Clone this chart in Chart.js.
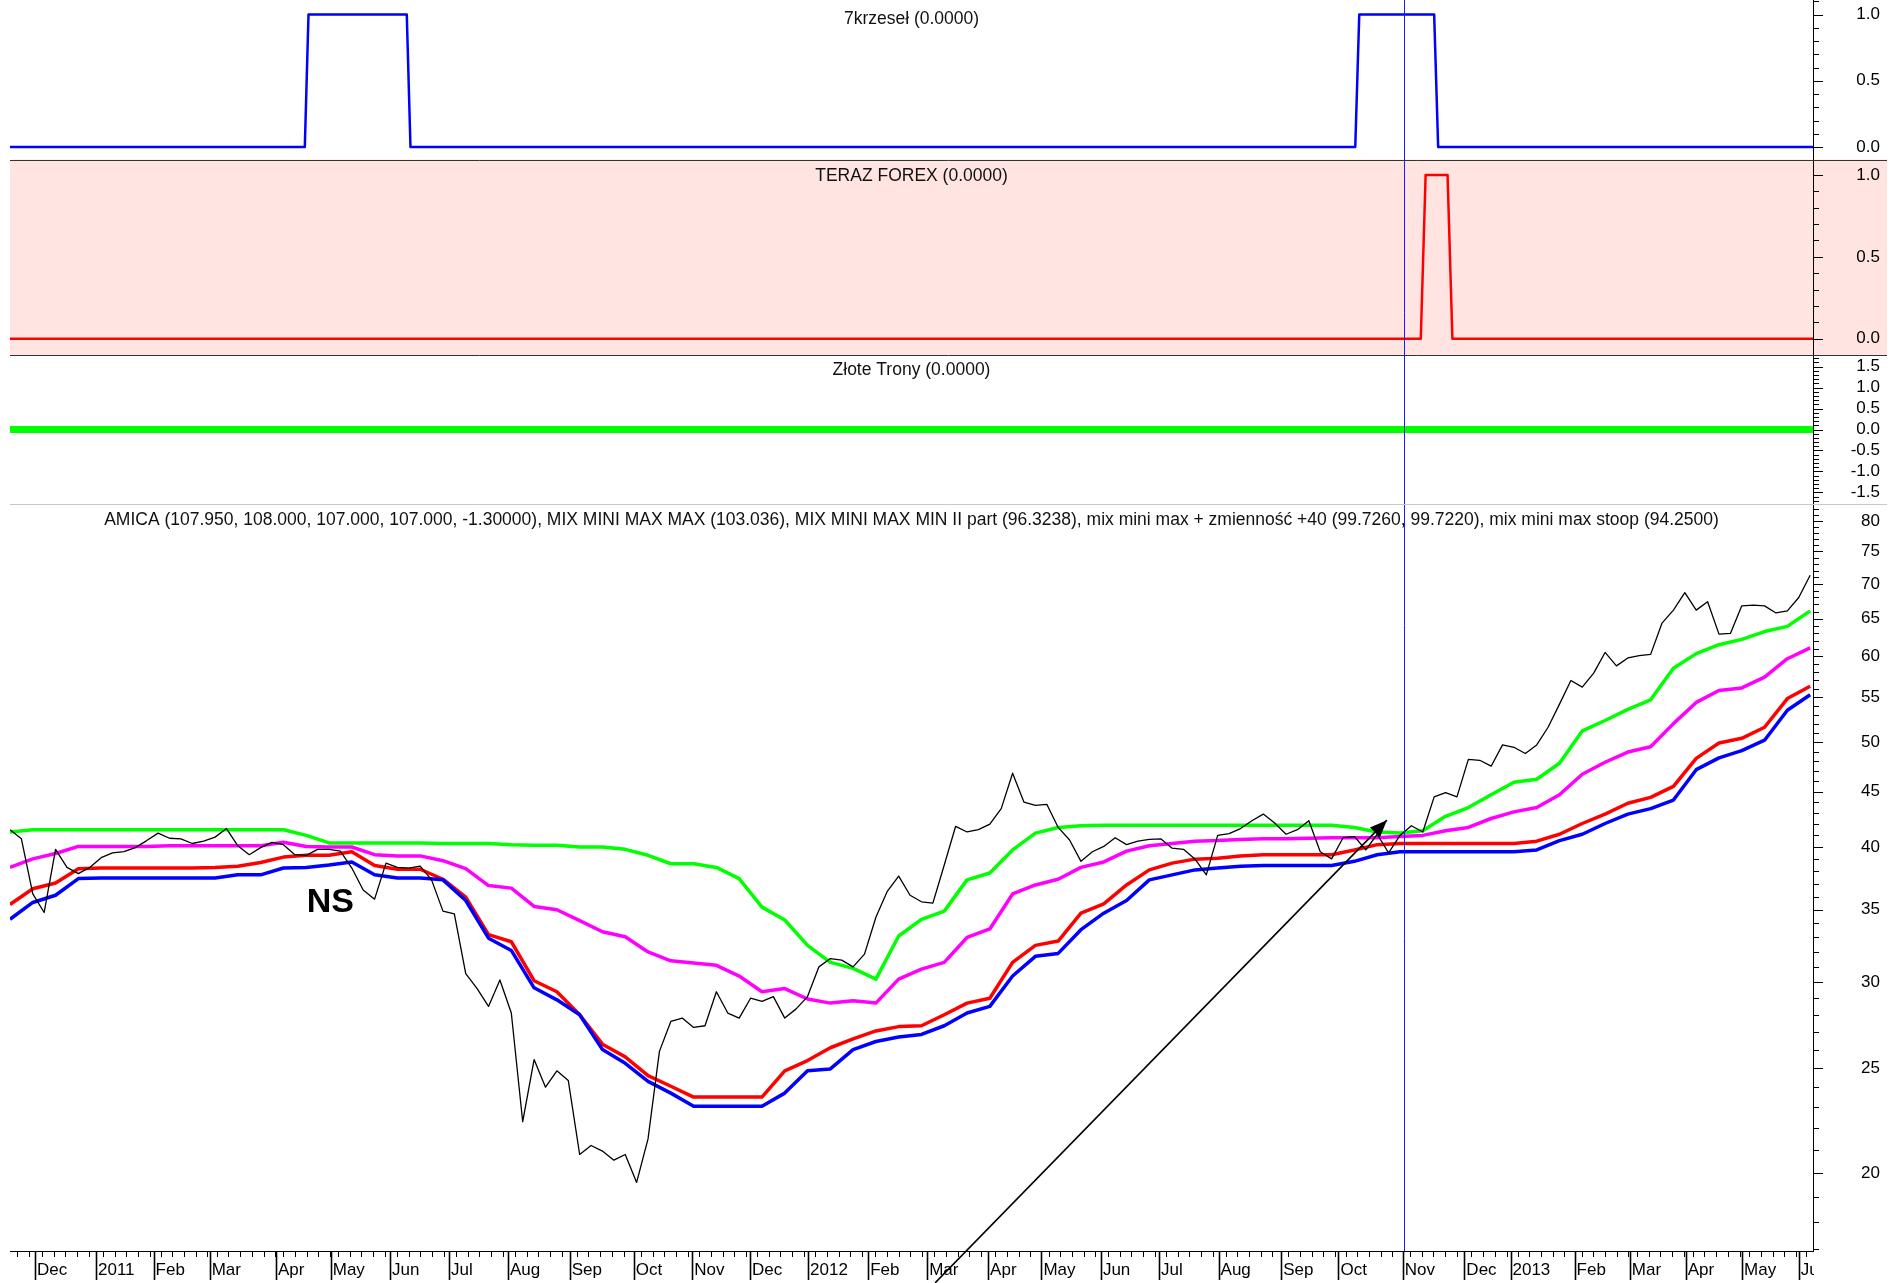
<!DOCTYPE html>
<html>
<head>
<meta charset="utf-8">
<title>AMICA</title>
<script src="https://cdn.jsdelivr.net/npm/chart.js@4.4.1/dist/chart.umd.min.js"></script>
<style>
  html, body { margin: 0; padding: 0; background: #fff; }
  #chart { display: block; }
</style>
</head>
<body>
<canvas id="chart" width="1904" height="1283"></canvas>
<script>
// x axis is in trading days from the left edge of the plot
var lastDay = 633;
var monthDays = [8.75, 30.2, 50.4, 70.1, 93.4, 112.6, 133.4, 154.1, 174.8, 196.5, 219, 239.5, 259.8, 280.2, 301.3,
  322, 343.4, 362.1, 383, 403.4, 424.3, 446.3, 466.4, 489, 510.6, 526.8, 549.3, 568.7, 588.3, 608.1, 628];
var monthLabels = ['Dec', '2011', 'Feb', 'Mar', 'Apr', 'May', 'Jun', 'Jul', 'Aug', 'Sep', 'Oct', 'Nov', 'Dec', '2012', 'Feb',
  'Mar', 'Apr', 'May', 'Jun', 'Jul', 'Aug', 'Sep', 'Oct', 'Nov', 'Dec', '2013', 'Feb', 'Mar', 'Apr', 'May', 'Jun'];

// AMICA close, one value every 4 days
var priceStep = 4;
var price = [41.5, 40.7, 36.2, 34.8, 39.8, 38.3, 37.8, 38.3, 39.1, 39.5,
  39.6, 39.95, 40.55, 41.2, 40.75, 40.7, 40.3, 40.5, 40.85, 41.6,
  40.1, 39.35, 39.95, 40.4, 40.2, 39.35, 39.3, 39.8, 39.8, 39.65,
  38.25, 36.5, 35.8, 38.65, 38.3, 38.25, 38.4, 37.3, 34.9, 34.7,
  30.55, 29.6, 28.5, 30.15, 28.1, 22.3, 25.45, 24.0, 24.85, 24.35,
  20.8, 21.2, 20.95, 20.55, 20.8, 19.6, 21.5, 25.9, 27.6, 27.8,
  27.25, 27.35, 29.4, 28.1, 27.8, 29.0, 28.8, 29.1, 27.8, 28.35,
  29.1, 31.0, 31.55, 31.45, 31.0, 31.85, 34.45, 36.4, 37.6, 36.1,
  35.6, 35.5, 38.5, 41.8, 41.3, 41.5, 42.0, 43.4, 46.8, 44.0,
  43.7, 43.8, 41.7, 40.6, 38.8, 39.6, 40.05, 40.8, 40.2, 40.5,
  40.65, 40.7, 39.9, 39.8, 39.0, 37.7, 41.0, 41.15, 41.6, 42.3,
  42.9, 42.1, 41.1, 41.5, 42.3, 39.6, 39.0, 40.8, 40.9, 39.75,
  41.1, 39.5, 41.0, 41.85, 41.3, 44.5, 44.9, 44.5, 48.2, 48.1,
  47.5, 49.7, 49.45, 48.8, 49.7, 51.6, 54.2, 57.0, 56.2, 57.9,
  60.5, 58.8, 59.8, 60.1, 60.25, 64.4, 66.2, 68.7, 66.2, 67.4,
  62.9, 63.0, 66.8, 66.9, 66.8, 65.8, 66.1, 68.0, 71.3];

// indicator lines, one value every 8 days
var bandStep = 8;
var mixMaxMax = [41.3, 41.5, 41.5, 41.5, 41.5, 41.5, 41.5, 41.5, 41.5, 41.5,
  41.5, 41.5, 41.5, 41.0, 40.35, 40.35, 40.35, 40.35, 40.35, 40.3,
  40.3, 40.3, 40.2, 40.15, 40.15, 40.0, 40.0, 39.8, 39.3, 38.6,
  38.6, 38.3, 37.4, 35.2, 34.25, 32.45, 31.3, 30.9, 30.2, 33.1,
  34.3, 34.9, 37.3, 37.85, 39.75, 41.2, 41.7, 41.85, 41.9, 41.9,
  41.9, 41.9, 41.9, 41.9, 41.9, 41.9, 41.9, 41.9, 41.9, 41.7,
  41.3, 41.2, 41.4, 42.7, 43.5, 44.7, 45.9, 46.2, 47.8, 51.2,
  52.35, 53.6, 54.7, 58.5, 60.35, 61.5, 62.2, 63.25, 63.95, 66.1];
var mixZmiennosc = [38.3, 39.0, 39.45, 40.05, 40.05, 40.05, 40.05, 40.1, 40.1, 40.1,
  40.1, 40.1, 40.4, 40.05, 40.0, 40.0, 39.35, 39.25, 39.25, 38.85,
  38.2, 36.85, 36.65, 35.25, 35.0, 34.2, 33.4, 33.05, 32.0, 31.4,
  31.25, 31.1, 30.4, 29.4, 29.6, 28.95, 28.7, 28.85, 28.7, 30.2,
  30.85, 31.3, 33.0, 33.6, 36.2, 36.9, 37.35, 38.3, 38.75, 39.65,
  40.1, 40.3, 40.5, 40.55, 40.65, 40.7, 40.7, 40.75, 40.8, 40.8,
  40.8, 40.9, 41.0, 41.4, 41.7, 42.5, 43.1, 43.5, 44.7, 46.7,
  47.9, 48.95, 49.5, 52.0, 54.4, 55.8, 56.1, 57.4, 59.7, 61.1];
var mixMaxMin = [35.4, 36.6, 37.05, 38.2, 38.25, 38.25, 38.25, 38.25, 38.25, 38.3,
  38.4, 38.7, 39.15, 39.3, 39.3, 39.6, 38.45, 38.15, 38.15, 37.35,
  35.95, 33.2, 32.7, 30.1, 29.4, 28.0, 26.3, 25.6, 24.6, 24.05,
  23.5, 23.5, 23.5, 23.5, 24.85, 25.4, 26.1, 26.6, 27.05, 27.3,
  27.35, 28.0, 28.7, 29.0, 31.3, 32.45, 32.75, 34.75, 35.45, 36.9,
  38.1, 38.65, 38.98, 39.05, 39.25, 39.35, 39.35, 39.35, 39.35, 39.75,
  40.2, 40.3, 40.3, 40.3, 40.3, 40.3, 40.3, 40.5, 41.1, 42.05,
  42.9, 43.9, 44.45, 45.5, 48.3, 49.9, 50.4, 51.6, 54.85, 56.3];
var mixStoop = [34.3, 35.55, 36.1, 37.4, 37.45, 37.45, 37.45, 37.45, 37.45, 37.45,
  37.7, 37.7, 38.25, 38.3, 38.5, 38.75, 37.7, 37.45, 37.45, 37.3,
  35.7, 32.95, 32.1, 29.65, 28.9, 28.0, 26.0, 25.25, 24.3, 23.7,
  23.05, 23.05, 23.05, 23.05, 23.7, 24.85, 24.95, 26.0, 26.45, 26.7,
  26.85, 27.35, 28.1, 28.5, 30.4, 31.7, 31.9, 33.55, 34.75, 35.7,
  37.3, 37.7, 38.1, 38.25, 38.4, 38.45, 38.45, 38.45, 38.45, 38.8,
  39.35, 39.6, 39.6, 39.6, 39.6, 39.6, 39.6, 39.75, 40.55, 41.1,
  42.05, 42.9, 43.4, 44.2, 47.15, 48.35, 49.1, 50.2, 53.5, 55.3];

// signal panels (day, value at each change)
var krzeselDays = [0, 103.5, 104.8, 139.3, 140.6, 472.3, 473.7, 500.0, 501.4, 633];
var krzeselValues = [0, 0, 1, 1, 0, 0, 1, 1, 0, 0];
var forexDays = [0, 495.3, 497.0, 504.7, 506.4, 633];
var forexValues = [0, 0, 1, 1, 0, 0];
var tronyDays = [0, 633];
var tronyValues = [0, 0];

// drawn marks on the price panel
var cursorDay = 489.3;
var arrowDays = [324.8, 483.4];
var arrowValues = [15.83, 42.35];
var nsDay = 104.2, nsValue = 34.85;

var titles = [
  ['y7', '7krzeseł (0.0000)', 19.5],
  ['yForex', 'TERAZ FOREX (0.0000)', 16.5],
  ['yZlote', 'Złote Trony (0.0000)', 15.4],
  ['y', 'AMICA (107.950, 108.000, 107.000, 107.000, -1.30000), MIX MINI MAX MAX (103.036), MIX MINI MAX MIN II part (96.3238), mix mini max + zmienność +40 (99.7260, 99.7220), mix mini max stoop (94.2500)', 16]
];

function stepPoints(step, values) {
  return values.map(function (v, i) { return {x: i * step, y: v}; });
}
function pairPoints(days, values) {
  return days.map(function (d, i) { return {x: d, y: values[i]}; });
}
function tenths(from, to) {
  var out = [];
  for (var k = from; k <= to; k++) out.push(k / 10);
  return out;
}

// minor x ticks inside every month
var xMinor = [];
var starts = [monthDays[0] - 21].concat(monthDays);
for (var m = 0; m < starts.length; m++) {
  var end = m + 1 < starts.length ? starts[m + 1] : lastDay + 4;
  for (var d = starts[m] + 2.5; d < end - 0.3; d += 4.1) {
    if (d > 0 && d < lastDay) xMinor.push(d);
  }
}
var xTicks = monthDays.concat(xMinor).sort(function (a, b) { return a - b; });

var mainTicks = [];
for (var v = 17; v <= 82; v++) mainTicks.push(v);

// right axes: fixed width, labels right-aligned at the far edge, no extra layout padding
function fitRight(scale) {
  scale.width = 67;
  scale.paddingTop = 0;
  scale.paddingBottom = 0;
}

function panelAxis(order, weight, min, max, ticks) {
  return {
    type: 'linear', position: 'right', stack: 'panels', stackWeight: weight, weight: order,
    min: min, max: max,
    grid: {display: false, drawTicks: false},
    border: {display: true, color: '#000', width: 1},
    afterBuildTicks: function (scale) {
      scale.ticks = ticks.map(function (t) { return {value: t}; });
    },
    afterFit: fitRight,
    ticks: {
      autoSkip: false, crossAlign: 'far', padding: 0, color: '#000', font: {size: 17},
      callback: function (val) {
        return Math.abs(val * 2 - Math.round(val * 2)) < 1e-6 ? val.toFixed(1) : '';
      }
    }
  };
}

var decor = {
  id: 'decor',
  beforeDraw: function (chart) {
    var ctx = chart.ctx, a = chart.chartArea, s = chart.scales.yForex;
    ctx.save();
    ctx.fillStyle = '#ffe4e1';
    ctx.fillRect(a.left, s.top, a.right + 74 - a.left, s.bottom - s.top);
    ctx.restore();
  },
  afterDatasetsDraw: function (chart) {
    var ctx = chart.ctx, a = chart.chartArea, xs = chart.scales.x, ys = chart.scales.y;
    ctx.save();
    // vertical cursor
    var cx = Math.round(xs.getPixelForValue(cursorDay)) + 0.5;
    ctx.strokeStyle = '#1a1aff';
    ctx.lineWidth = 1;
    ctx.beginPath();
    ctx.moveTo(cx, a.top);
    ctx.lineTo(cx, a.bottom);
    ctx.stroke();
    // arrow head
    var x0 = xs.getPixelForValue(arrowDays[0]), y0 = ys.getPixelForValue(arrowValues[0]);
    var x1 = xs.getPixelForValue(arrowDays[1]), y1 = ys.getPixelForValue(arrowValues[1]);
    var ang = Math.atan2(y1 - y0, x1 - x0), L = 17, W = 7;
    ctx.fillStyle = '#000';
    ctx.beginPath();
    ctx.moveTo(x1, y1);
    ctx.lineTo(x1 - L * Math.cos(ang) + W * Math.sin(ang), y1 - L * Math.sin(ang) - W * Math.cos(ang));
    ctx.lineTo(x1 - L * Math.cos(ang) - W * Math.sin(ang), y1 - L * Math.sin(ang) + W * Math.cos(ang));
    ctx.closePath();
    ctx.fill();
    // NS label
    ctx.font = 'bold 34px "Liberation Sans", Arial, sans-serif';
    ctx.textAlign = 'left';
    ctx.textBaseline = 'alphabetic';
    ctx.fillText('NS', xs.getPixelForValue(nsDay), ys.getPixelForValue(nsValue));
    ctx.restore();
  },
  afterDraw: function (chart) {
    var ctx = chart.ctx, a = chart.chartArea, sc = chart.scales;
    var xs = sc.x;
    ctx.save();
    // the last month label is cut at the right axis
    ctx.fillStyle = '#fff';
    ctx.fillRect(a.right + 1, xs.top + 1, chart.width - a.right, xs.bottom - xs.top);
    // panel separators
    [['yForex', '#333'], ['yZlote', '#333'], ['y', '#c8c8c8']].forEach(function (p) {
      var yy = Math.round(sc[p[0]].top) + 0.5;
      ctx.strokeStyle = p[1];
      ctx.lineWidth = 1;
      ctx.beginPath();
      ctx.moveTo(a.left, yy);
      ctx.lineTo(a.right + 74, yy);
      ctx.stroke();
    });
    // y tick marks
    ctx.strokeStyle = '#000';
    ['y7', 'yForex', 'yZlote', 'y'].forEach(function (id) {
      var s = sc[id];
      s.ticks.forEach(function (t) {
        var yy = Math.round(s.getPixelForValue(t.value)) + 0.5;
        ctx.beginPath();
        ctx.moveTo(s.left, yy);
        ctx.lineTo(s.left + (t.label ? 10 : 6), yy);
        ctx.stroke();
      });
    });
    // x tick marks
    xs.ticks.forEach(function (t) {
      var xx = Math.round(xs.getPixelForValue(t.value)) + 0.5;
      ctx.lineWidth = t.label ? 1.6 : 1;
      ctx.beginPath();
      ctx.moveTo(xx, xs.top);
      ctx.lineTo(xx, xs.top + (t.label ? 29 : 6));
      ctx.stroke();
    });
    // panel titles
    ctx.fillStyle = '#111';
    ctx.font = '17.5px "Liberation Sans", Arial, sans-serif';
    ctx.textAlign = 'center';
    ctx.textBaseline = 'middle';
    titles.forEach(function (t) {
      ctx.fillText(t[1], (a.left + a.right) / 2, sc[t[0]].top + t[2]);
    });
    ctx.restore();
  }
};

Chart.defaults.font.family = '"Liberation Sans", Arial, sans-serif';

var lineBase = {pointRadius: 0, tension: 0, fill: false, borderJoinStyle: 'round', xAxisID: 'x'};
function ds(label, data, color, width, axis, extra) {
  var o = Object.assign({}, lineBase, {label: label, data: data, borderColor: color, borderWidth: width, yAxisID: axis});
  return Object.assign(o, extra || {});
}

new Chart(document.getElementById('chart'), {
  type: 'line',
  data: {
    datasets: [
      ds('arrow', pairPoints(arrowDays, arrowValues), '#000', 1.6, 'y', {clip: false}),
      ds('AMICA', stepPoints(priceStep, price), '#000', 1.3, 'y'),
      ds('mix mini max stoop', stepPoints(bandStep, mixStoop), '#0000ff', 3.5, 'y'),
      ds('MIX MINI MAX MIN II part', stepPoints(bandStep, mixMaxMin), '#ff0000', 3.5, 'y'),
      ds('mix mini max + zmiennosc +40', stepPoints(bandStep, mixZmiennosc), '#ff00ff', 3.5, 'y'),
      ds('MIX MINI MAX MAX', stepPoints(bandStep, mixMaxMax), '#00ff00', 3.5, 'y'),
      ds('7krzeseł', pairPoints(krzeselDays, krzeselValues), '#0000ff', 2.5, 'y7'),
      ds('TERAZ FOREX', pairPoints(forexDays, forexValues), '#ff0000', 2.5, 'yForex'),
      ds('Złote Trony', pairPoints(tronyDays, tronyValues), '#00ff00', 7, 'yZlote')
    ]
  },
  options: {
    responsive: false,
    animation: false,
    devicePixelRatio: 1,
    events: [],
    layout: {padding: {left: 10, right: 24, top: 0, bottom: 0}},
    plugins: {legend: {display: false}, tooltip: {enabled: false}, title: {display: false}},
    scales: {
      x: {
        type: 'linear', position: 'bottom', min: 0, max: lastDay,
        grid: {display: false, drawTicks: false},
        border: {display: true, color: '#000', width: 1},
        afterBuildTicks: function (scale) {
          scale.ticks = xTicks.map(function (t) { return {value: t}; });
        },
        afterFit: function (scale) {
          scale.height = 32;
          scale.paddingLeft = 0;
          scale.paddingRight = 0;
        },
        ticks: {
          autoSkip: false, maxRotation: 0, minRotation: 0, align: 'start', labelOffset: 2, padding: 9,
          color: '#000', font: {size: 17},
          callback: function (val) {
            var k = monthDays.indexOf(val);
            return k >= 0 ? monthLabels[k] : '';
          }
        }
      },
      y7: panelAxis(0, 159.5, -0.094, 1.11, tenths(0, 11)),
      yForex: panelAxis(1, 195.5, -0.099, 1.094, tenths(0, 10)),
      yZlote: panelAxis(2, 149, -1.774, 1.774, tenths(-17, 17)),
      y: {
        type: 'logarithmic', position: 'right', stack: 'panels', stackWeight: 747, weight: 3,
        min: 16.94, max: 82.96,
        grid: {display: false, drawTicks: false},
        border: {display: true, color: '#000', width: 1},
        afterBuildTicks: function (scale) {
          scale.ticks = mainTicks.map(function (t) { return {value: t}; });
        },
        afterFit: fitRight,
        ticks: {
          autoSkip: false, crossAlign: 'far', padding: 0, color: '#000', font: {size: 17},
          callback: function (val) { return val % 5 === 0 ? String(val) : ''; }
        }
      }
    }
  },
  plugins: [decor]
});
</script>
</body>
</html>
